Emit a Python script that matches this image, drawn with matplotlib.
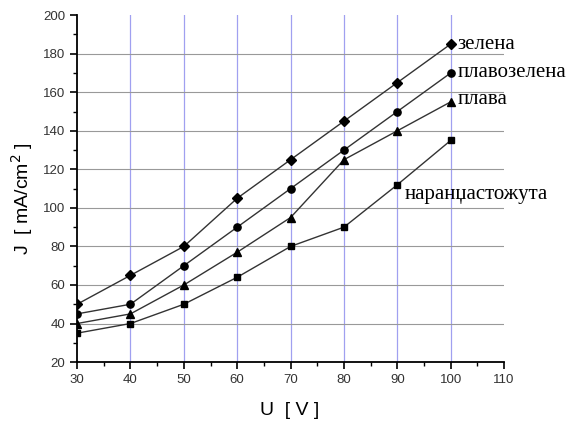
import matplotlib
matplotlib.use("Agg")
import matplotlib.pyplot as plt
from matplotlib.ticker import MultipleLocator

U = [30, 40, 50, 60, 70, 80, 90, 100]
zelena = [50, 65, 80, 105, 125, 145, 165, 185]
plavozelena = [45, 50, 70, 90, 110, 130, 150, 170]
plava = [40, 45, 60, 77, 95, 125, 140, 155]
narandzasta = [35, 40, 50, 64, 80, 90, 112, 135]

series = [
    (zelena, "D", "зелена", 4.6),
    (plavozelena, "o", "плавозелена", 5.2),
    (plava, "^", "плава", 5.4),
    (narandzasta, "s", "наранџастожута", 4.4),
]

fig = plt.figure(figsize=(5.67, 4.21), dpi=100)
ax = fig.add_axes([0.136, 0.140, 0.753, 0.824])
ax.set_xlim(30, 110)
ax.set_ylim(20, 200)

# grid
for x in range(40, 110, 10):
    ax.axvline(x, color="#a0a0f0", lw=0.9, zorder=0)
for y in range(40, 200, 20):
    ax.axhline(y, color="#999999", lw=0.8, zorder=0)

for vals, m, name, ms in series:
    ax.plot(U, vals, color="#333333", lw=1.0, marker=m, markersize=ms,
            markerfacecolor="black", markeredgecolor="black", zorder=3)

serif = "Liberation Serif"
fs = 15
ax.text(101.3, 185, "зелена", fontfamily=serif, fontsize=fs, va="center", ha="left")
ax.text(101.3, 170, "плавозелена", fontfamily=serif, fontsize=fs, va="center", ha="left")
ax.text(101.3, 156, "плава", fontfamily=serif, fontsize=fs, va="center", ha="left")
ax.text(91.4, 107, "наранџастожута", fontfamily=serif, fontsize=fs, va="center", ha="left")

for s in ["top", "right"]:
    ax.spines[s].set_visible(False)
for s in ["left", "bottom"]:
    ax.spines[s].set_linewidth(1.3)

ax.xaxis.set_major_locator(MultipleLocator(10))
ax.xaxis.set_minor_locator(MultipleLocator(5))
ax.yaxis.set_major_locator(MultipleLocator(20))
ax.yaxis.set_minor_locator(MultipleLocator(10))
ax.tick_params(which="major", direction="out", length=5, width=1.2,
               labelsize=9.5, colors="black", labelcolor="#333333")
ax.tick_params(which="minor", direction="out", length=3, width=1.0)
for lab in ax.get_xticklabels() + ax.get_yticklabels():
    lab.set_fontfamily("Liberation Sans")

ax.set_xlabel("U  [ V ]", fontfamily="Liberation Sans", fontsize=14)
ax.set_ylabel("J  [ mA/cm$^2$ ]", fontfamily="Liberation Sans", fontsize=14)
ax.xaxis.set_label_coords(0.497, -0.115)
ax.yaxis.set_label_coords(-0.098, 0.47)

fig.savefig("out.png", dpi=100)
